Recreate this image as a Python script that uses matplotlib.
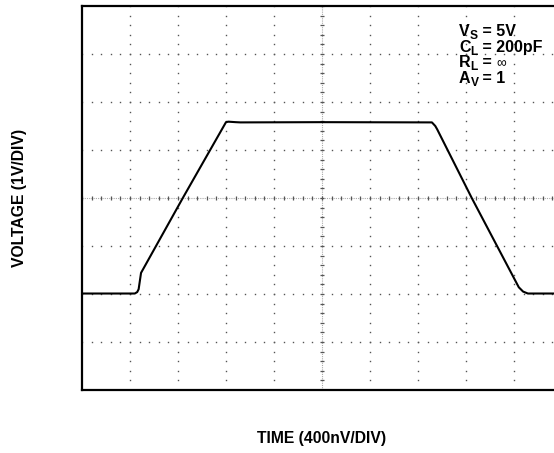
import numpy as np
import matplotlib
matplotlib.use("Agg")
import matplotlib.pyplot as plt

plt.rcParams['font.family'] = ['Liberation Sans', 'DejaVu Sans']

# scope trace in divisions (x: 0..10, y: -4..4)
t_div = [0.0, 1.10, 1.15, 1.18, 1.23, 2.10, 3.00, 3.05, 3.20, 3.30,
         5.00, 7.29, 7.36, 7.40, 8.12, 9.10, 9.19, 9.29, 10.0]
v_div = [-1.99, -1.99, -1.96, -1.90, -1.56, 0.0, 1.58, 1.59, 1.58, 1.575,
         1.58, 1.575, 1.50, 1.43, 0.0, -1.86, -1.95, -1.99, -1.99]

# (symbol, subscript, rest)
conditions = [("V", "S", " = 5V"), ("C", "L", " = 200pF"),
              ("R", "L", " = ∞"), ("A", "V", " = 1")]

W, H = 554, 453
fig = plt.figure(figsize=(W / 100, H / 100), dpi=100)
# axes run off the right side of the picture, like the original crop
ax = fig.add_axes([82 / W, 1 - 390 / H, 480 / W, 384 / H])
ax.set_xlim(0, 10)
ax.set_ylim(-4, 4)
ax.set_xticks([])
ax.set_yticks([])
for s in ['left', 'top', 'bottom', 'right']:
    ax.spines[s].set_linewidth(1.6)
    ax.spines[s].set_color('black')

# dotted graticule
fine = np.arange(0, 10.01, 0.2)
fine_y = np.arange(-4, 4.01, 0.2)
for gx in range(1, 10):
    if gx == 5:
        continue
    ax.plot(np.full_like(fine_y, gx), fine_y, ls='none', marker='s', ms=1.0,
            mew=0, color='#555555', zorder=1)
for gy in range(-3, 4):
    if gy == 0:
        continue
    ax.plot(fine, np.full_like(fine, gy), ls='none', marker='s', ms=1.0,
            mew=0, color='#555555', zorder=1)

# center cross with minor ticks
ax.axhline(0, color='#aaaaaa', lw=0.8, ls=(0, (1, 1)), zorder=1)
ax.axvline(5, color='#aaaaaa', lw=0.8, ls=(0, (1, 1)), zorder=1)
ax.plot(fine, np.zeros_like(fine), ls='none', marker='|', ms=3.5, mew=0.9,
        color='#555555', zorder=1)
ax.plot(np.full_like(fine_y, 5), fine_y, ls='none', marker='_', ms=3.5, mew=0.9,
        color='#555555', zorder=1)

ax.plot(t_div, v_div, color='black', lw=1.5, solid_joinstyle='round', zorder=3)

# condition box, with subscripts placed piece by piece
fig.canvas.draw()
r = fig.canvas.get_renderer()
fs = 11.5
for i, (sym, sub, rest) in enumerate(conditions):
    x0 = 459
    yb = 36 + 15.7 * i
    t1 = fig.text(x0 / W, 1 - yb / H, sym, fontsize=fs, fontweight='bold',
                  va='baseline')
    w1 = t1.get_window_extent(r).width
    t2 = fig.text((x0 + w1) / W, 1 - (yb + 3) / H, sub, fontsize=fs * 0.75,
                  fontweight='bold', va='baseline')
    w2 = t2.get_window_extent(r).width
    if rest.endswith("∞"):
        t3 = fig.text((x0 + w1 + w2) / W, 1 - yb / H, " = ", fontsize=fs,
                      fontweight='bold', va='baseline')
        w3 = t3.get_window_extent(r).width
        fig.text((x0 + w1 + w2 + w3) / W, 1 - yb / H, "∞", fontsize=fs * 0.85,
                 fontweight='normal', va='baseline')
    else:
        fig.text((x0 + w1 + w2) / W, 1 - yb / H, rest, fontsize=fs,
                 fontweight='bold', va='baseline')

fig.text(322 / W, 1 - 439 / H, "TIME (400nV/DIV)", fontsize=11.3,
         fontweight='bold', ha='center', va='center')
fig.text(20 / W, 1 - 198 / H, "VOLTAGE (1V/DIV)", fontsize=11.3,
         fontweight='bold', ha='center', va='center', rotation=90)

fig.savefig("out.png", dpi=100)
